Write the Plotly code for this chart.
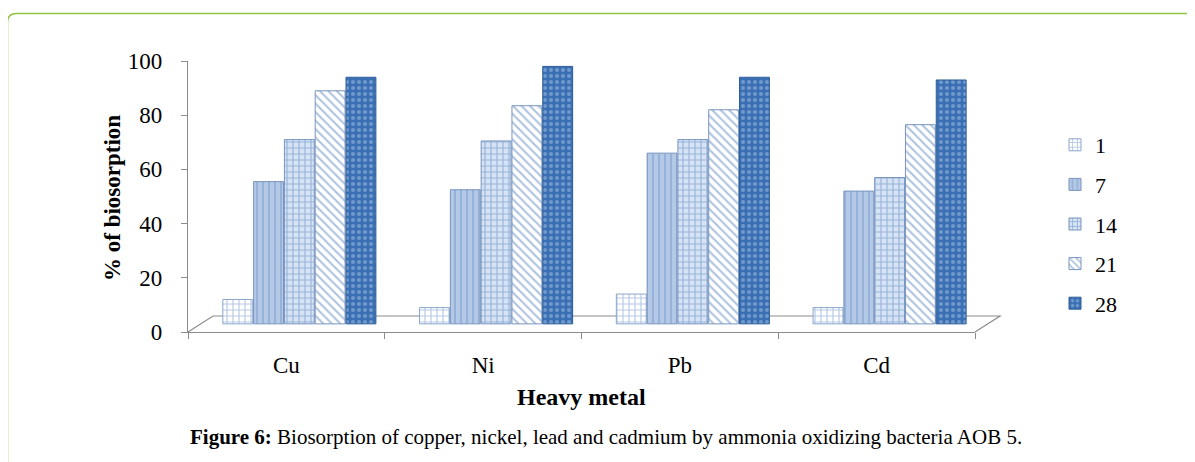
import plotly.graph_objects as go

categories = ["Cu", "Ni", "Pb", "Cd"]
series_names = ["1", "7", "14", "21", "28"]
day1 = [9, 6, 11, 6]
day7 = [52.5, 49.5, 63, 49]
day14 = [68, 67.5, 68, 54]
day21 = [86, 80.5, 79, 73.5]
day28 = [91, 95, 91, 90]
y_ticks = [0, 20, 40, 60, 80, 100]

values = [day1, day7, day14, day21, day28]
bg_colors = ["#ffffff", "#b3c9e6", "#d6e3f4", "#ffffff", "#3b6fb3"]
fg_colors = ["#6f93c6", "#7c9ccb", "#5b85c0", "#5d86c0", "#a9c4e6"]
shapes_pat = ["+", "|", "+", "\\", "."]
line_colors = ["#8aa6cc", "#7894bd", "#7894bd", "#7894bd", "#2d5d99"]

SERIF = "Liberation Serif, Times New Roman, serif"

# the page body has an 8px margin; work in reference pixel coords and shift
OFF = 8
W, H = 1195 - OFF, 462 - OFF
L, R, T, B = 188, 975, 61, 332  # reference plot area


def px_x(p):
    return (p - L) / (R - L)


def px_y(p):
    return (B - p) / (B - T)


fig = go.Figure()
width_u = 0.152
start = -0.323
step = 0.1565
floor_base = 3
for i, (name, vals) in enumerate(zip(series_names, values)):
    fig.add_trace(go.Bar(
        x=categories, y=vals, name=name, base=floor_base,
        width=width_u, offset=start + i * step,
        marker=dict(
            color=bg_colors[i],
            line=dict(color=line_colors[i], width=1),
            pattern=dict(shape=shapes_pat[i], bgcolor=bg_colors[i],
                         fgcolor=fg_colors[i], size=6, solidity=0.35,
                         fillmode="overlay"),
        ),
        legendgroup=name,
    ))

shapes = []
# floor of the 3D plot
shapes.append(dict(
    type="path", xref="paper", yref="paper",
    path=f"M {px_x(188)} {px_y(332)} L {px_x(213)} {px_y(316)} L {px_x(1000)} {px_y(316)} L {px_x(975)} {px_y(332)}",
    line=dict(color="#8c8c8c", width=1.2),
    layer="below",
))
# green rounded frame
r_x, r_y = 9 / (R - L), 9 / (B - T)
x0, y0, x1, y1 = px_x(7.5), px_y(13.5), px_x(1210), px_y(480)
shapes.append(dict(
    type="path", xref="paper", yref="paper",
    path=(f"M {x0} {y1} L {x0} {y0 - r_y} Q {x0} {y0} {x0 + r_x} {y0} "
          f"L {x1} {y0}"),
    line=dict(color="#8dc63f", width=1.5),
))

annotations = [
    dict(text="<b>% of biosorption</b>", xref="paper", yref="paper",
         x=px_x(112), y=px_y(198), xanchor="center", yanchor="middle",
         textangle=-90, showarrow=False,
         font=dict(family=SERIF, size=23, color="#000")),
    dict(text="<b>Heavy metal</b>", xref="paper", yref="paper",
         x=px_x(581), y=px_y(397), xanchor="center", yanchor="middle",
         showarrow=False, font=dict(family=SERIF, size=24, color="#000")),
    dict(text="<b>Figure 6:</b> Biosorption of copper, nickel, lead and cadmium by ammonia oxidizing bacteria AOB 5.",
         xref="paper", yref="paper", x=px_x(606), y=px_y(437),
         xanchor="center", yanchor="middle", showarrow=False,
         font=dict(family=SERIF, size=21, color="#000")),
]

fig.update_layout(
    width=W, height=H,
    margin=dict(l=L - OFF, r=W - (R - OFF), t=T - OFF, b=H - (B - OFF), pad=0),
    paper_bgcolor="white", plot_bgcolor="white",
    barmode="group",
    showlegend=True,
    legend=dict(x=px_x(1055), y=px_y(124), xanchor="left", yanchor="top",
                font=dict(family=SERIF, size=22, color="#000"),
                tracegroupgap=8, traceorder="grouped",
                itemwidth=30, bgcolor="rgba(0,0,0,0)"),
    xaxis=dict(showline=True, linecolor="#8c8c8c", linewidth=1.2,
               ticks="outside", ticklen=6, tickcolor="#8c8c8c",
               tickson="boundaries", showgrid=False,
               tickfont=dict(family=SERIF, size=23, color="#000"),
               ticklabelstandoff=12, range=[-0.5, 3.5]),
    yaxis=dict(range=[0, 100], tickvals=y_ticks, showline=True,
               linecolor="#8c8c8c", linewidth=1.2, ticks="outside",
               ticklen=6, tickcolor="#8c8c8c", showgrid=False, zeroline=False,
               tickfont=dict(family=SERIF, size=23, color="#000"),
               ticklabelstandoff=14),
    shapes=shapes,
    annotations=annotations,
)

fig.write_html("out.html")
